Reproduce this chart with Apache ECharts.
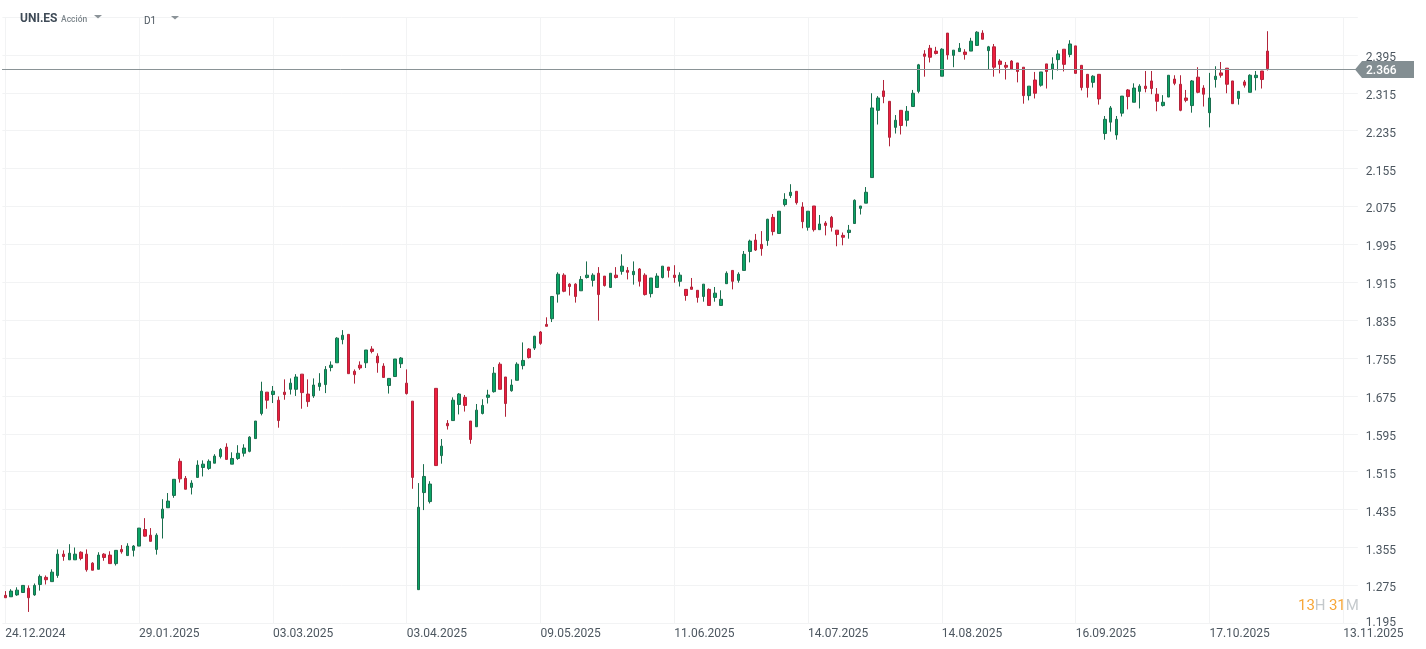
<!DOCTYPE html>
<html>
<head>
<meta charset="utf-8">
<title>UNI.ES</title>
<script src="https://cdn.jsdelivr.net/npm/echarts@6/dist/echarts.min.js"></script>
<style>
  html, body { margin: 0; padding: 0; background: #fff; }
  #chart { width: 1426px; height: 649px; }
</style>
</head>
<body>
<div id="chart"></div>
<script>
// date labels, one every 23 sessions
const tickLabels = ['24.12.2024', '29.01.2025', '03.03.2025', '03.04.2025', '09.05.2025', '11.06.2025',
    '14.07.2025', '14.08.2025', '16.09.2025', '17.10.2025', '13.11.2025'];
const lastPrice = 2.366;

const opens = [
    1.254,1.251,1.255,1.260,1.269,1.255,1.277,1.292,1.283,1.296,
    1.341,1.329,1.329,1.345,1.341,1.322,1.309,1.341,1.339,1.321,
    1.351,1.338,1.349,1.358,1.393,1.381,1.351,1.417,1.439,1.465,
    1.537,1.501,1.482,1.503,1.524,1.522,1.533,1.547,1.567,1.531,
    1.543,1.554,1.558,1.585,1.638,1.683,1.678,1.666,1.683,1.689,
    1.689,1.721,1.679,1.675,1.695,1.699,1.735,1.745,1.794,1.805,
    1.727,1.740,1.745,1.774,1.759,1.738,1.697,1.716,1.743,1.702,
    1.664,1.266,1.471,1.452,1.691,1.549,1.617,1.623,1.657,1.672,
    1.622,1.610,1.638,1.672,1.684,1.742,1.715,1.686,1.708,1.739,
    1.774,1.776,1.810,1.826,1.838,1.890,1.930,1.911,1.911,1.897,
    1.925,1.919,1.934,1.928,1.904,1.930,1.938,1.940,1.931,1.943,
    1.930,1.891,1.904,1.925,1.947,1.930,1.917,1.900,1.905,1.898,
    1.885,1.900,1.883,1.866,1.912,1.940,1.919,1.940,1.980,2.004,
    1.995,2.003,2.052,2.018,2.079,2.098,2.107,2.074,2.031,2.076,
    2.026,2.040,2.052,2.025,2.014,2.020,2.039,2.071,2.082,2.136,
    2.278,2.319,2.297,2.242,2.278,2.257,2.286,2.318,2.397,2.409,
    2.403,2.350,2.441,2.394,2.402,2.401,2.403,2.415,2.441,2.404,
    2.412,2.382,2.373,2.382,2.378,2.369,2.309,2.342,2.331,2.376,
    2.365,2.385,2.407,2.396,2.414,2.373,2.354,2.337,2.354,2.229,
    2.253,2.226,2.272,2.321,2.295,2.318,2.329,2.340,2.312,2.288,
    2.306,2.344,2.333,2.304,2.288,2.348,2.325,2.273,2.343,2.357,
    2.367,2.340,2.303,2.338,2.316,2.347,2.361,2.403
];
const closes = [
    1.249,1.263,1.265,1.275,1.249,1.275,1.294,1.287,1.303,1.341,
    1.336,1.343,1.341,1.332,1.308,1.307,1.339,1.334,1.321,1.349,
    1.346,1.358,1.358,1.396,1.379,1.368,1.381,1.436,1.453,1.499,
    1.500,1.478,1.491,1.529,1.531,1.537,1.548,1.562,1.541,1.543,
    1.554,1.565,1.588,1.622,1.685,1.666,1.685,1.623,1.678,1.702,
    1.715,1.682,1.663,1.698,1.702,1.731,1.740,1.797,1.803,1.722,
    1.720,1.734,1.772,1.769,1.745,1.714,1.712,1.753,1.755,1.680,
    1.503,1.440,1.505,1.489,1.528,1.569,1.612,1.666,1.679,1.655,
    1.583,1.645,1.655,1.677,1.723,1.689,1.659,1.698,1.742,1.750,
    1.756,1.801,1.786,1.822,1.885,1.932,1.896,1.906,1.885,1.921,
    1.930,1.930,1.889,1.908,1.934,1.925,1.949,1.936,1.938,1.917,
    1.889,1.924,1.928,1.949,1.940,1.925,1.930,1.887,1.900,1.883,
    1.911,1.866,1.892,1.879,1.934,1.917,1.932,1.974,2.002,1.983,
    1.986,2.048,2.022,2.065,2.090,2.105,2.083,2.043,2.065,2.026,
    2.038,2.035,2.031,2.016,2.010,2.025,2.088,2.076,2.105,2.283,
    2.304,2.307,2.221,2.257,2.246,2.276,2.314,2.374,2.392,2.390,
    2.398,2.407,2.395,2.405,2.409,2.396,2.424,2.443,2.428,2.412,
    2.369,2.375,2.369,2.365,2.360,2.309,2.329,2.314,2.359,2.360,
    2.376,2.397,2.375,2.418,2.356,2.326,2.326,2.350,2.302,2.259,
    2.283,2.259,2.308,2.307,2.325,2.329,2.324,2.324,2.297,2.295,
    2.352,2.335,2.278,2.299,2.340,2.316,2.312,2.304,2.350,2.352,
    2.333,2.292,2.318,2.331,2.352,2.352,2.343,2.366
];
const lows = [
    1.249,1.251,1.253,1.260,1.219,1.253,1.264,1.277,1.283,1.291,
    1.327,1.329,1.329,1.328,1.304,1.307,1.309,1.327,1.321,1.317,
    1.342,1.338,1.336,1.358,1.378,1.368,1.340,1.374,1.439,1.460,
    1.492,1.478,1.467,1.503,1.505,1.519,1.533,1.543,1.541,1.531,
    1.540,1.547,1.556,1.585,1.634,1.648,1.660,1.608,1.667,1.678,
    1.675,1.648,1.652,1.671,1.686,1.681,1.727,1.745,1.784,1.722,
    1.701,1.730,1.734,1.765,1.724,1.714,1.680,1.716,1.734,1.678,
    1.479,1.266,1.434,1.448,1.528,1.532,1.604,1.623,1.636,1.642,
    1.574,1.610,1.636,1.659,1.682,1.689,1.631,1.684,1.708,1.731,
    1.754,1.772,1.783,1.822,1.831,1.872,1.894,1.887,1.872,1.897,
    1.923,1.906,1.834,1.906,1.904,1.923,1.931,1.921,1.910,1.906,
    1.887,1.883,1.904,1.923,1.925,1.914,1.906,1.876,1.900,1.872,
    1.874,1.866,1.874,1.866,1.912,1.900,1.914,1.940,1.957,1.981,
    1.971,1.992,2.014,2.018,2.075,2.093,2.079,2.029,2.024,2.022,
    2.026,2.014,2.022,1.991,1.993,2.007,2.039,2.058,2.082,2.136,
    2.248,2.293,2.202,2.229,2.227,2.244,2.286,2.314,2.349,2.379,
    2.396,2.350,2.385,2.369,2.402,2.385,2.403,2.414,2.428,2.365,
    2.349,2.356,2.343,2.363,2.337,2.292,2.299,2.303,2.328,2.324,
    2.343,2.362,2.360,2.390,2.356,2.320,2.305,2.326,2.290,2.216,
    2.233,2.216,2.265,2.280,2.295,2.282,2.316,2.312,2.276,2.286,
    2.306,2.331,2.276,2.295,2.273,2.314,2.286,2.242,2.326,2.347,
    2.314,2.292,2.290,2.326,2.316,2.320,2.324,2.362
];
const highs = [
    1.263,1.267,1.271,1.275,1.275,1.279,1.298,1.296,1.309,1.351,
    1.349,1.362,1.355,1.347,1.351,1.324,1.345,1.343,1.347,1.349,
    1.360,1.364,1.360,1.396,1.417,1.396,1.385,1.457,1.470,1.499,
    1.543,1.506,1.497,1.539,1.539,1.541,1.552,1.565,1.575,1.556,
    1.571,1.573,1.590,1.622,1.705,1.683,1.696,1.674,1.710,1.712,
    1.721,1.721,1.710,1.712,1.723,1.738,1.748,1.799,1.814,1.805,
    1.731,1.748,1.772,1.780,1.765,1.744,1.712,1.753,1.757,1.731,
    1.664,1.491,1.531,1.495,1.691,1.584,1.624,1.672,1.681,1.677,
    1.622,1.658,1.668,1.688,1.736,1.746,1.715,1.710,1.746,1.788,
    1.776,1.802,1.812,1.841,1.886,1.936,1.934,1.913,1.913,1.928,
    1.959,1.934,1.947,1.928,1.934,1.947,1.974,1.947,1.959,1.945,
    1.934,1.924,1.934,1.949,1.947,1.951,1.936,1.900,1.924,1.898,
    1.911,1.902,1.905,1.898,1.938,1.940,1.936,1.981,2.005,2.017,
    2.023,2.049,2.059,2.065,2.103,2.122,2.107,2.084,2.065,2.076,
    2.057,2.044,2.055,2.025,2.020,2.036,2.090,2.076,2.116,2.314,
    2.308,2.342,2.297,2.268,2.278,2.287,2.321,2.376,2.405,2.416,
    2.412,2.409,2.441,2.405,2.420,2.407,2.431,2.445,2.447,2.414,
    2.418,2.386,2.380,2.384,2.378,2.369,2.329,2.359,2.359,2.376,
    2.390,2.405,2.407,2.426,2.414,2.373,2.354,2.352,2.354,2.266,
    2.287,2.266,2.308,2.323,2.335,2.333,2.361,2.361,2.325,2.310,
    2.352,2.352,2.352,2.321,2.342,2.369,2.331,2.357,2.371,2.380,
    2.367,2.340,2.318,2.342,2.354,2.361,2.361,2.445
];

// 233 slots: the sessions plus the empty space on the right
const categories = Array.from({ length: 233 }, (_, i) => tickLabels[i / 23] || '');
const candles = opens.map((o, i) => [o, closes[i], lows[i], highs[i]]);

const font = 'Roboto';
const labelColor = '#4d5760';
const chart = echarts.init(document.getElementById('chart'));
chart.setOption({
    animation: false,
    backgroundColor: '#fff',
    textStyle: { fontFamily: font },
    grid: { left: 2.4, width: 1355.4, top: 17, height: 606.3 },
    xAxis: {
        type: 'category',
        data: categories,
        axisLine: { show: false },
        axisTick: { show: false, alignWithLabel: true, interval: 22 },
        splitLine: { show: true, alignWithLabel: true, interval: 22, lineStyle: { color: '#f2f3f4', width: 1 } },
        axisLabel: {
            interval: 22, align: 'left', margin: 5, color: labelColor,
            fontFamily: font, fontSize: 12, hideOverlap: false
        }
    },
    yAxis: {
        type: 'value',
        position: 'right',
        min: 1.195,
        max: 2.475,
        interval: 0.08,
        axisLine: { show: false },
        axisTick: { show: false },
        splitLine: { show: true, lineStyle: { color: '#f2f3f4', width: 1 } },
        axisLabel: {
            margin: 8,
            // the reference prints these just under their grid line, the lowest one above it
            formatter: v => (v > 2.47 ? '' : (v < 1.2 ? '{m|' : '{d|') + v.toFixed(3) + '}'),
            rich: {
                d: { color: labelColor, fontFamily: font, fontSize: 12, padding: [6, 0, 0, 0] },
                m: { color: labelColor, fontFamily: font, fontSize: 12 }
            }
        }
    },
    series: [{
        type: 'candlestick',
        data: candles,
        barWidth: 3,
        itemStyle: { color: '#0ba566', color0: '#ef1d3e', borderColor: '#1a6e4e', borderColor0: '#b2243a', borderWidth: 1 }
    }]
});

// price line and tag, header and countdown are drawn on top of the chart
// markLine rounds the value to two decimals, so the line goes through convertToPixel instead
const tagY = Math.ceil(chart.convertToPixel({ yAxisIndex: 0 }, lastPrice)) + 0.5;
const arrow = (x, y) => ({
    type: 'polygon',
    shape: { points: [[x, y], [x + 8, y], [x + 4, y + 3.5]] },
    style: { fill: '#8b9398' }
});
chart.setOption({
    graphic: [
        {
            type: 'line', z: 49,
            shape: { x1: 2, y1: tagY, x2: 1356, y2: tagY },
            style: { stroke: '#8a9396', lineWidth: 1 }
        },
        {
            type: 'polygon', z: 50,
            shape: { points: [[1355, tagY], [1362, tagY - 8.5], [1414, tagY - 8.5], [1414, tagY + 8.5], [1362, tagY + 8.5]] },
            style: { fill: '#838e92' }
        },
        {
            type: 'text', z: 51, x: 1366, y: tagY + 1,
            style: { text: lastPrice.toFixed(3), fill: '#fff', font: '500 12px ' + font, textVerticalAlign: 'middle' }
        },
        {
            type: 'text', x: 20, y: 19,
            style: { text: 'UNI.ES', fill: '#3f4b57', font: 'bold 12px ' + font, textVerticalAlign: 'middle' }
        },
        {
            type: 'text', x: 61, y: 20,
            style: { text: 'Acción', fill: '#7d868c', font: '500 8.5px ' + font, textVerticalAlign: 'middle' }
        },
        arrow(94, 15),
        {
            type: 'text', x: 144, y: 21,
            style: { text: 'D1', fill: '#4d5760', font: '10px ' + font, textVerticalAlign: 'middle' }
        },
        arrow(171, 16),
        {
            type: 'text', x: 1298, y: 606,
            style: {
                text: '{o|13}{g|H} {o|31}{g|M}',
                textVerticalAlign: 'middle',
                rich: {
                    o: { fill: '#f7a738', font: '15px ' + font },
                    g: { fill: '#c4c9cc', font: '15px ' + font }
                }
            }
        }
    ]
});
</script>
</body>
</html>
